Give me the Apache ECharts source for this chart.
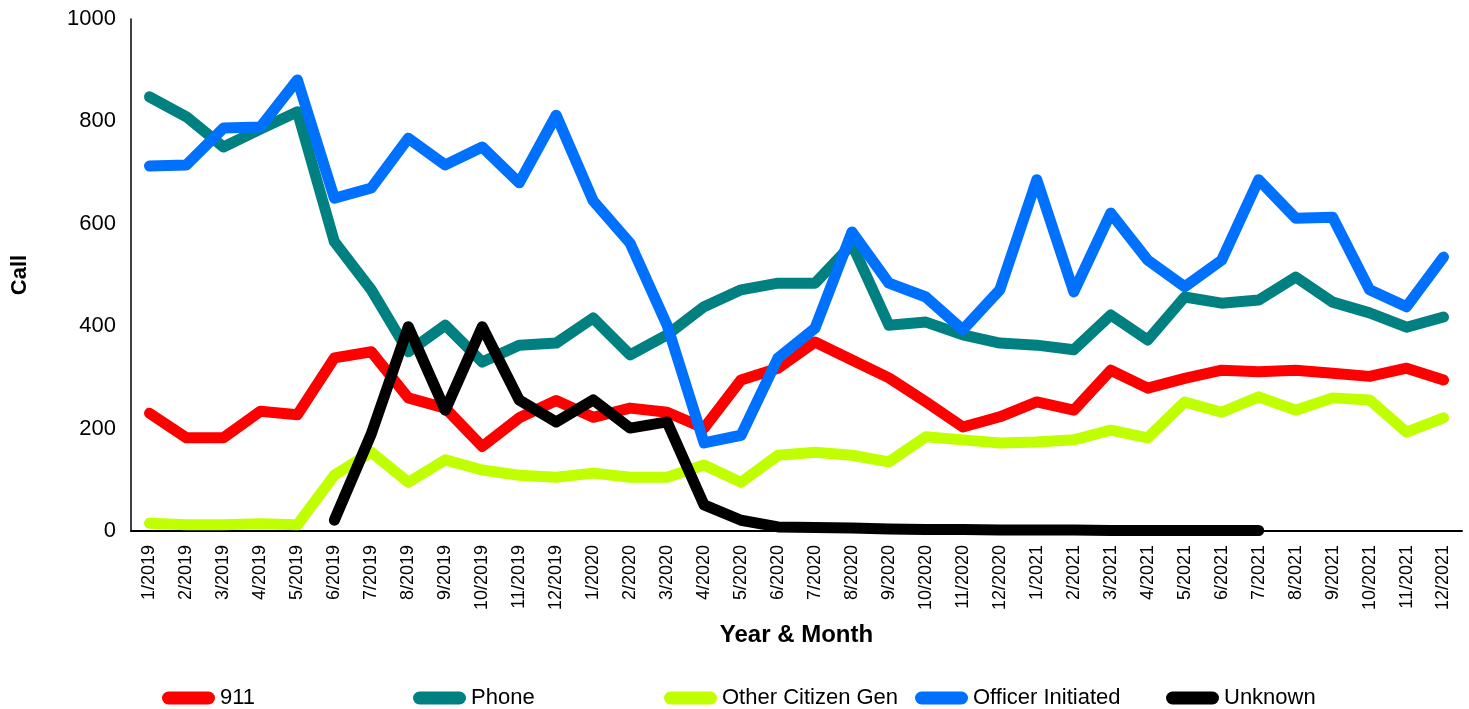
<!DOCTYPE html>
<html lang="en">
  <head>
    <meta charset="UTF-8" />
    <title>Calls by Year & Month</title>
    <script src="https://cdn.jsdelivr.net/npm/echarts@6/dist/echarts.min.js"></script>
    <style>
      html, body { margin: 0; padding: 0; background: #fff; }
    </style>
  </head>
  <body>
    <div id="chart" style="width: 1469px; height: 709px"></div>

    <script>
      // months on the x axis
      var months = [
        "1/2019", "2/2019", "3/2019", "4/2019", "5/2019", "6/2019",
        "7/2019", "8/2019", "9/2019", "10/2019", "11/2019", "12/2019",
        "1/2020", "2/2020", "3/2020", "4/2020", "5/2020", "6/2020",
        "7/2020", "8/2020", "9/2020", "10/2020", "11/2020", "12/2020",
        "1/2021", "2/2021", "3/2021", "4/2021", "5/2021", "6/2021",
        "7/2021", "8/2021", "9/2021", "10/2021", "11/2021", "12/2021"
      ];

      // calls per month
      var calls911 = [
        230, 182, 182, 234, 227, 338, 350, 260, 240, 165, 221, 255,
        222, 240, 232, 201, 295, 318, 369, 334, 299, 252, 203, 223,
        252, 236, 314, 279, 298, 314, 311, 314, 308, 302, 318, 295
      ];
      var phone = [
        848, 809, 750, 785, 819, 565, 471, 350, 402, 330, 363, 367,
        416, 344, 383, 438, 471, 484, 484, 560, 402, 408, 383, 367,
        363, 354, 422, 373, 457, 445, 451, 496, 447, 426, 398, 418
      ];
      var otherCitizen = [
        15, 12, 12, 14, 12, 109, 154, 95, 139, 119, 109, 105,
        113, 105, 105, 129, 95, 148, 154, 148, 135, 184, 178, 172,
        174, 178, 197, 182, 252, 232, 262, 236, 260, 256, 193, 221
      ];
      var officer = [
        713, 715, 787, 789, 881, 650, 670, 767, 715, 750, 680, 812,
        645, 562, 402, 172, 187, 338, 396, 584, 484, 457, 393, 471,
        686, 467, 621, 529, 477, 529, 686, 611, 613, 471, 438, 535
      ];
      var unknown = [
        null, null, null, null, null, 21, 190, 399, 236, 399, 256, 213,
        256, 201, 213, 51, 21, 8, 7, 6, 4, 3, 3, 2,
        2, 2, 1, 1, 1, 1, 1, null, null, null, null, null
      ];

      var seriesNames = ["911", "Phone", "Other Citizen Gen", "Officer Initiated", "Unknown"];
      var seriesColors = ["#ff0000", "#008080", "#c0ff00", "#0070ff", "#000000"];
      var seriesData = [calls911, phone, otherCitizen, officer, unknown];

      var yTicks = { min: 0, max: 1000, interval: 200 };

      var myChart = echarts.init(document.getElementById("chart"));

      // pill shaped legend marker
      var pill = "path://M6.5,0 H46.5 A6.5,6.5 0 0 1 46.5,13 H6.5 A6.5,6.5 0 0 1 6.5,0 Z";

      // one legend per series so the entries sit in even columns
      var legends = seriesNames.map(function (name, i) {
        return {
          left: 157 + i * 251,
          top: 682,
          itemWidth: 53,
          itemHeight: 13,
          icon: pill,
          textStyle: { fontSize: 22, color: "#000" },
          data: [name]
        };
      });

      var series = seriesNames.map(function (name, i) {
        return {
          name: name,
          type: "line",
          data: seriesData[i],
          symbol: "none",
          connectNulls: false,
          itemStyle: { color: seriesColors[i] },
          lineStyle: { color: seriesColors[i], width: 11, cap: "round", join: "round" },
          emphasis: { disabled: true }
        };
      });

      var option = {
        animation: false,
        textStyle: { fontFamily: "Liberation Sans, Arial, sans-serif", color: "#000" },
        grid: {
          left: 131,
          right: 7,
          top: 19,
          bottom: 178,
          containLabel: false,
          outerBoundsMode: "none"
        },
        legend: legends,
        xAxis: {
          type: "category",
          data: months,
          name: "Year & Month",
          nameLocation: "middle",
          nameGap: 92,
          nameTextStyle: { fontSize: 24, fontWeight: "bold", color: "#000" },
          axisLine: { lineStyle: { color: "#000", width: 2 } },
          axisTick: { show: false },
          axisLabel: { interval: 0, rotate: 90, fontSize: 18, color: "#000", margin: 14 },
          splitLine: { show: false }
        },
        yAxis: {
          type: "value",
          min: yTicks.min,
          max: yTicks.max,
          interval: yTicks.interval,
          name: "Call",
          nameLocation: "middle",
          nameGap: 100,
          nameTextStyle: { fontSize: 22, fontWeight: "bold", color: "#000" },
          axisLine: { show: true, lineStyle: { color: "#000", width: 1.5 } },
          axisTick: { show: false },
          axisLabel: {
            fontSize: 22,
            color: "#000",
            margin: 15,
            formatter: function (v) { return String(v); }
          },
          splitLine: { show: false }
        },
        series: series
      };

      myChart.setOption(option);
    </script>
  </body>
</html>
